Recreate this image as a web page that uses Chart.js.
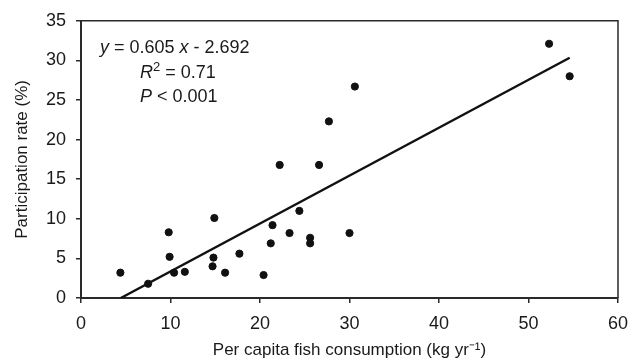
<!DOCTYPE html>
<html>
<head>
<meta charset="utf-8">
<script src="https://cdn.jsdelivr.net/npm/chart.js@4.4.1/dist/chart.umd.min.js"></script>
<style>
html,body{margin:0;padding:0;background:#fff;}
#wrap{width:641px;height:362px;position:relative;}
</style>
</head>
<body>
<div id="wrap"><canvas id="c" width="641" height="362"></canvas></div>
<script>
// Data
const consumption = [4.4, 7.5, 9.8, 9.9, 10.4, 11.6, 14.9, 14.8, 14.7, 16.1, 17.7, 20.4, 21.2, 21.4, 22.2, 23.3, 24.4, 25.6, 25.6, 26.6, 30.0, 30.6, 27.7, 52.3, 54.6];
const participation = [3.2, 1.8, 8.3, 5.2, 3.2, 3.3, 10.1, 5.1, 4.0, 3.2, 5.6, 2.9, 6.9, 9.2, 16.8, 8.2, 11.0, 7.6, 6.9, 16.8, 8.2, 26.7, 22.3, 32.1, 28.0];
const fitX = [4.45, 54.6];
const fitY = [0, 30.34];
const xTicks = [0, 10, 20, 30, 40, 50, 60];
const yTicks = [0, 5, 10, 15, 20, 25, 30, 35];

const FONT = "'Liberation Sans', Arial, Helvetica, sans-serif";
const INK = '#1a1a1a';

const boxPlugin = {
  id: 'box',
  afterDraw(chart) {
    const {ctx, chartArea: a} = chart;
    ctx.save();
    ctx.strokeStyle = '#2a2a2a';
    ctx.lineWidth = 1.5;
    ctx.beginPath();
    ctx.moveTo(a.left, a.top);
    ctx.lineTo(a.right, a.top);
    ctx.lineTo(a.right, a.bottom);
    ctx.stroke();

    // regression annotation
    ctx.fillStyle = INK;
    ctx.textBaseline = 'alphabetic';
    const fs = 18;
    const norm = fs + 'px ' + FONT;
    const ital = 'italic ' + fs + 'px ' + FONT;
    function seg(parts, x, y) {
      for (const p of parts) {
        ctx.font = p.f;
        ctx.fillText(p.t, x, y + (p.dy || 0));
        x += ctx.measureText(p.t).width;
      }
    }
    const L = a.left, T = a.top;
    seg([{t:'y', f:ital}, {t:' = 0.605 ', f:norm}, {t:'x', f:ital}, {t:' - 2.692', f:norm}], L + 19, T + 32);
    seg([{t:'R', f:ital}, {t:'2', f:'13px ' + FONT, dy:-7}, {t:' = 0.71', f:norm}], L + 59, T + 57);
    seg([{t:'P', f:ital}, {t:' < 0.001', f:norm}], L + 59, T + 81);
    ctx.restore();
  }
};

new Chart(document.getElementById('c'), {
  type: 'scatter',
  data: {
    datasets: [
      {
        type: 'scatter',
        data: consumption.map((x, i) => ({x, y: participation[i]})),
        backgroundColor: '#111',
        borderColor: '#111',
        pointRadius: 3.6,
        pointHoverRadius: 3.6,
        order: 1
      },
      {
        type: 'line',
        data: fitX.map((x, i) => ({x, y: fitY[i]})),
        borderColor: '#111',
        borderWidth: 2.4,
        pointRadius: 0,
        fill: false,
        order: 2
      }
    ]
  },
  plugins: [boxPlugin],
  options: {
    responsive: false,
    animation: false,
    events: [],
    layout: {padding: {top: 16, right: 23, left: 0, bottom: 0}},
    plugins: {legend: {display: false}, tooltip: {enabled: false}},
    scales: {
      x: {
        type: 'linear', min: 0, max: 60,
        afterBuildTicks(s) { s.ticks = xTicks.map(v => ({value: v})); },
        afterFit(s) { s.height = 64; },
        grid: {display: true, drawOnChartArea: false, drawTicks: true, tickLength: 5, color: '#2a2a2a', lineWidth: 1.5},
        border: {display: true, color: '#2a2a2a', width: 2},
        ticks: {color: INK, font: {family: FONT, size: 18}, padding: 10, maxRotation: 0},
        title: {display: true, text: 'Per capita fish consumption (kg yr\u207B\u00B9)', color: INK, font: {family: FONT, size: 17}, padding: {top: 2, bottom: 1}}
      },
      y: {
        type: 'linear', min: 0, max: 35,
        afterBuildTicks(s) { s.ticks = yTicks.map(v => ({value: v})); },
        afterFit(s) { s.width = 81; },
        grid: {display: true, drawOnChartArea: false, drawTicks: true, tickLength: 5, color: '#2a2a2a', lineWidth: 1.5},
        border: {display: true, color: '#2a2a2a', width: 2},
        ticks: {color: INK, font: {family: FONT, size: 18}, padding: 10},
        title: {display: true, text: 'Participation rate (%)', color: INK, font: {family: FONT, size: 17}, padding: {top: 12, bottom: 4}}
      }
    }
  }
});
</script>
</body>
</html>
